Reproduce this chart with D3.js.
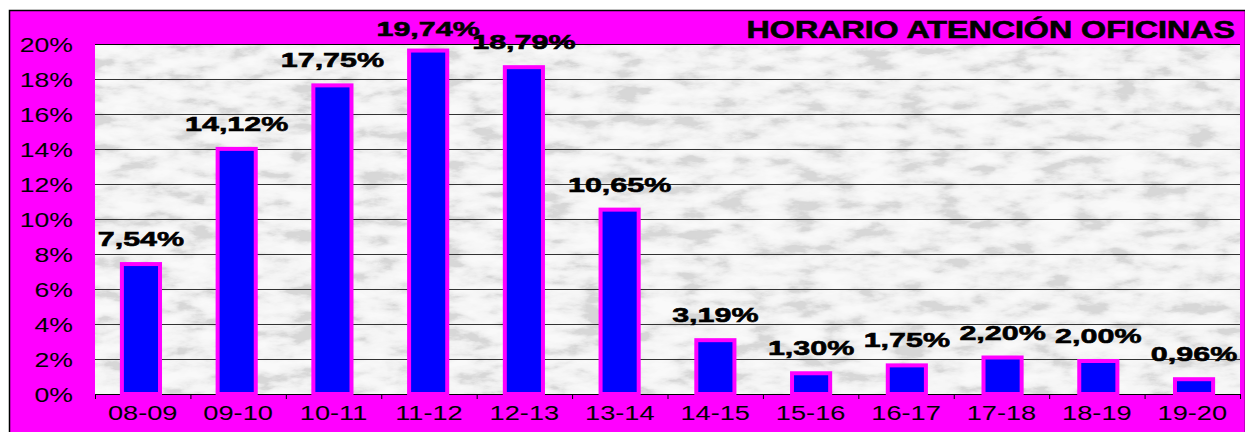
<!DOCTYPE html>
<html>
<head>
<meta charset="utf-8">
<script src="https://cdn.jsdelivr.net/npm/d3@7"></script>
<style>
  body { margin: 0; background: #fff; }
  svg { display: block; font-family: "Liberation Sans", Arial, sans-serif; }
</style>
</head>
<body>
<svg id="chart"></svg>
<script>
// datos del grafico
const franjas = ['08-09', '09-10', '10-11', '11-12', '12-13', '13-14', '14-15', '15-16', '16-17', '17-18', '18-19', '19-20']
const porcentajes = [7.54, 14.12, 17.75, 19.74, 18.79, 10.65, 3.19, 1.30, 1.75, 2.20, 2.00, 0.96]
const ticksY = [0, 2, 4, 6, 8, 10, 12, 14, 16, 18, 20]
const titulo = 'HORARIO ATENCIÓN OFICINAS'

let width = 1245
let height = 432
let svg = d3.select('#chart').attr('width', width).attr('height', height)

let plot = { left: 95, right: 1240, top: 44, bottom: 394 }

// el original tiene el texto estirado a lo ancho
function estirar(sel, k) {
    sel.each(function () {
        let len = this.getComputedTextLength()
        d3.select(this)
            .attr('textLength', len * k)
            .attr('lengthAdjust', 'spacingAndGlyphs')
    })
}

// fondo magenta con borde
svg.append('rect')
    .attr('x', 9.5).attr('y', 10.5)
    .attr('width', width - 9).attr('height', height)
    .attr('fill', '#ff00ff')
    .attr('stroke', '#000').attr('stroke-width', 1.5)

// textura marmol
let defs = svg.append('defs')
let filt = defs.append('filter').attr('id', 'marmol')
    .attr('x', 0).attr('y', 0).attr('width', 1).attr('height', 1)
filt.append('feTurbulence')
    .attr('type', 'fractalNoise')
    .attr('baseFrequency', '0.028 0.07')
    .attr('numOctaves', 5)
    .attr('seed', 11)
    .attr('result', 'ruido')
filt.append('feColorMatrix')
    .attr('in', 'ruido')
    .attr('type', 'matrix')
    .attr('values',
        '2.2 0 0 0 -0.6 ' +
        '2.2 0 0 0 -0.6 ' +
        '2.2 0 0 0 -0.6 ' +
        '0 0 0 0 1')
    .attr('result', 'gris')
filt.append('feComponentTransfer')
    .attr('in', 'gris')
    .call(f => {
        ['feFuncR', 'feFuncG', 'feFuncB'].forEach(c => {
            f.append(c).attr('type', 'table').attr('tableValues', '0.68 0.79 0.87 0.91 0.93 0.95')
        })
    })

svg.append('rect')
    .attr('x', plot.left).attr('y', plot.top)
    .attr('width', plot.right - plot.left).attr('height', plot.bottom - plot.top)
    .attr('fill', '#e6e6e6')
    .attr('filter', 'url(#marmol)')

let x = d3.scaleBand()
    .domain(franjas)
    .range([plot.left, plot.right])
    .paddingInner(0.56)
    .paddingOuter(0.26)

let xTicks = d3.scaleBand().domain(franjas).range([plot.left, plot.right])

let y = d3.scaleLinear()
    .domain([0, 20])
    .range([plot.bottom, plot.top])

// lineas de la rejilla
svg.append('g')
    .selectAll('line')
    .data(ticksY.filter(d => d > 0 && d < 20))
    .enter().append('line')
    .attr('x1', plot.left).attr('x2', plot.right)
    .attr('y1', d => Math.round(y(d)) + 0.5)
    .attr('y2', d => Math.round(y(d)) + 0.5)
    .attr('stroke', '#333')
    .attr('stroke-width', 1)

svg.append('line')
    .attr('x1', plot.left).attr('x2', plot.right)
    .attr('y1', plot.top + 0.5).attr('y2', plot.top + 0.5)
    .attr('stroke', '#000')

// eje Y
let yAxis = d3.axisLeft(y).tickValues(ticksY).tickFormat(d => d + '%').tickSize(0).tickPadding(22)
let gy = svg.append('g').attr('transform', `translate(${plot.left},0)`).call(yAxis)
gy.select('.domain').remove()
gy.selectAll('text')
    .attr('font-size', 20)
    .attr('font-family', '"Liberation Sans", Arial, sans-serif')
    .attr('fill', '#000')
    .attr('dy', '0.36em')
    .call(estirar, 1.33)

// eje X
let xAxis = d3.axisBottom(xTicks).tickSize(0).tickPadding(12)
let gx = svg.append('g').attr('transform', `translate(0,${plot.bottom})`).call(xAxis)
gx.select('.domain').attr('stroke', '#000').attr('stroke-width', 1.2)
gx.selectAll('text')
    .attr('font-size', 20)
    .attr('font-family', '"Liberation Sans", Arial, sans-serif')
    .attr('fill', '#000')
    .call(estirar, 1.36)
gx.selectAll('.tick line').remove()
// marcas entre categorias
gx.selectAll('.sep')
    .data(franjas.concat(['fin']))
    .enter().append('line')
    .attr('class', 'sep')
    .attr('x1', (d, i) => plot.left + i * xTicks.step() + 0.5)
    .attr('x2', (d, i) => plot.left + i * xTicks.step() + 0.5)
    .attr('y1', 0).attr('y2', 5)
    .attr('stroke', '#000')

// barras
svg.append('g')
    .selectAll('rect')
    .data(porcentajes)
    .enter().append('rect')
    .attr('x', (d, i) => x(franjas[i]) + 2)
    .attr('y', d => y(d) + 2)
    .attr('width', x.bandwidth() - 4)
    .attr('height', d => plot.bottom - y(d) - 2)
    .attr('fill', '#0000ff')
    .attr('stroke', '#ff00ff')
    .attr('stroke-width', 4)

// etiquetas de valor
svg.append('g')
    .selectAll('text')
    .data(porcentajes)
    .enter().append('text')
    .attr('x', (d, i) => x(franjas[i]) + x.bandwidth() / 2)
    .attr('y', d => Math.max(36, y(d) - 16))
    .attr('text-anchor', 'middle')
    .attr('font-size', 21)
    .attr('font-weight', 'bold')
    .attr('fill', '#000')
    .attr('stroke', '#000')
    .attr('stroke-width', 0.6)
    .text(d => d.toFixed(2).replace('.', ',') + '%')
    .call(estirar, 1.45)

// titulo
svg.append('text')
    .attr('x', 1235).attr('y', 38)
    .attr('text-anchor', 'end')
    .attr('font-size', 23)
    .attr('font-weight', 'bold')
    .attr('fill', '#000')
    .attr('stroke', '#000')
    .attr('stroke-width', 0.6)
    .text(titulo)
    .call(estirar, 1.4)
</script>
</body>
</html>
